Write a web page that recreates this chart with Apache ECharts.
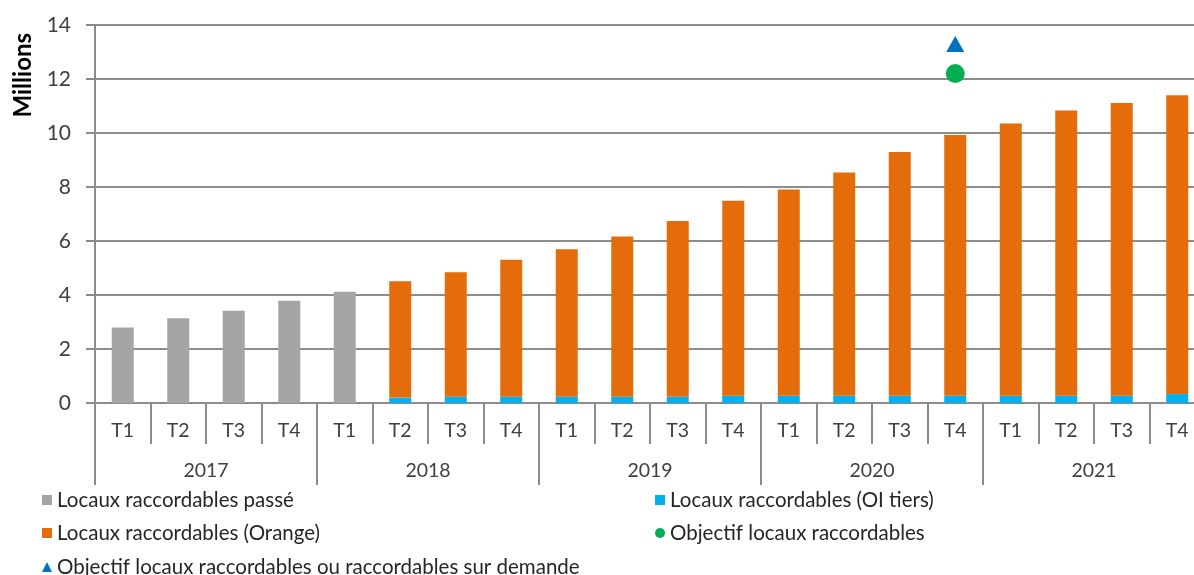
<!DOCTYPE html>
<html><head><meta charset="utf-8">
<script src="https://cdn.jsdelivr.net/npm/echarts@6/dist/echarts.min.js"></script>
<style>html,body{margin:0;padding:0;background:#fff}#c{width:1194px;height:575px}</style>
</head><body><div id="c"></div>
<script>
const quarters = ['T1','T2','T3','T4','T1','T2','T3','T4','T1','T2','T3','T4','T1','T2','T3','T4','T1','T2','T3','T4'];
const years = ['2017','2018','2019','2020','2021'];
const passe = [2.8, 3.14, 3.42, 3.79, 4.12, '-', '-', '-', '-', '-', '-', '-', '-', '-', '-', '-', '-', '-', '-', '-'];
const oiTiers = ['-', '-', '-', '-', '-', 0.2, 0.23, 0.23, 0.23, 0.23, 0.23, 0.27, 0.27, 0.27, 0.27, 0.27, 0.27, 0.27, 0.27, 0.33];
const orange = ['-', '-', '-', '-', '-', 4.31, 4.61, 5.08, 5.46, 5.94, 6.51, 7.22, 7.64, 8.27, 9.03, 9.66, 10.08, 10.56, 10.84, 11.07];
const objectif = ['-', '-', '-', '-', '-', '-', '-', '-', '-', '-', '-', '-', '-', '-', '-', 12.2, '-', '-', '-', '-'];
const objectifDemande = ['-', '-', '-', '-', '-', '-', '-', '-', '-', '-', '-', '-', '-', '-', '-', 13.3, '-', '-', '-', '-'];
const yTicks = {min: 0, max: 14, interval: 2};

const names = {
  passe: 'Locaux raccordables passé',
  oi: 'Locaux raccordables (OI tiers)',
  orange: 'Locaux raccordables (Orange)',
  obj: 'Objectif locaux raccordables',
  objD: 'Objectif locaux raccordables ou raccordables sur demande'
};
const FONT = 'Lato';
const AX = '#8c8c8c';
const TXT = '#404040';

function leg(name, icon, left, top) {
  return {
    left: left, top: top, padding: 0, itemWidth: 10, itemHeight: 10, itemGap: 0,
    textStyle: {fontSize: 20.5, color: '#262626', lineHeight: 24, fontFamily: FONT},
    data: [{name: name, icon: icon}]
  };
}

const chart = echarts.init(document.getElementById('c'), null, {renderer: 'canvas'});
chart.setOption({
  animation: false,
  textStyle: {fontFamily: FONT},
  grid: {left: 95, width: 1110, top: 25, bottom: 172, containLabel: false, outerBoundsMode: 'none'},
  graphic: [{
    type: 'text', left: 11, top: 33, rotation: Math.PI / 2,
    style: {text: 'Millions', font: 'bold 24px ' + FONT, fill: '#000'}
  }],
  legend: [
    leg(names.passe, 'rect', 42, 488),
    leg(names.orange, 'rect', 42, 521),
    leg(names.objD, 'triangle', 42, 555),
    leg(names.oi, 'rect', 655, 488),
    leg(names.obj, 'circle', 655, 521)
  ],
  xAxis: [{
    type: 'category', data: quarters, position: 'bottom',
    axisLine: {show: true, lineStyle: {color: AX, width: 2}},
    axisTick: {show: true, interval: 0, length: 41, lineStyle: {color: AX, width: 2}},
    axisLabel: {interval: 0, margin: 18, fontSize: 19.5, color: TXT, fontFamily: FONT}
  }, {
    type: 'category', data: years, position: 'bottom',
    axisLine: {show: false},
    axisTick: {show: true, interval: 0, length: 82, lineStyle: {color: AX, width: 2}},
    axisLabel: {interval: 0, margin: 58, fontSize: 19.5, color: TXT, fontFamily: FONT}
  }],
  yAxis: {
    type: 'value', min: yTicks.min, max: yTicks.max, interval: yTicks.interval,
    axisLine: {show: true, lineStyle: {color: AX, width: 2}},
    axisTick: {show: true, inside: false, length: 9, lineStyle: {color: AX, width: 2}},
    splitLine: {show: true, lineStyle: {color: AX, width: 2}},
    axisLabel: {margin: 24, fontSize: 21, color: TXT, fontFamily: FONT}
  },
  series: [{
    name: names.passe, type: 'bar', stack: 'tot', data: passe, barWidth: 22,
    itemStyle: {color: '#a5a5a5'}
  }, {
    name: names.oi, type: 'bar', stack: 'tot', data: oiTiers, barWidth: 22,
    itemStyle: {color: '#00b0f0'}
  }, {
    name: names.orange, type: 'bar', stack: 'tot', data: orange, barWidth: 22,
    itemStyle: {color: '#e46c0a'}
  }, {
    name: names.obj, type: 'scatter', data: objectif, symbol: 'circle', symbolSize: 19,
    itemStyle: {color: '#00b050', opacity: 1}
  }, {
    name: names.objD, type: 'scatter', data: objectifDemande, symbol: 'triangle', symbolSize: [18, 16],
    itemStyle: {color: '#0070c0', opacity: 1}
  }]
});
</script>
</body></html>
